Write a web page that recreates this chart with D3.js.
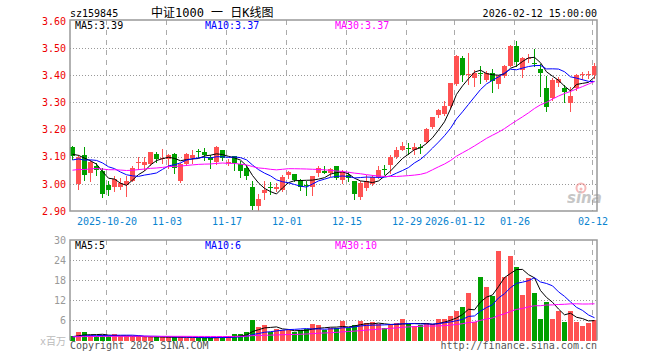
<!DOCTYPE html>
<html>
<head>
<meta charset="utf-8">
<title>中证1000 日K线图</title>
<script src="https://cdn.jsdelivr.net/npm/d3@7"></script>
<style>
    body { margin:0; background:#fff; }
    svg { display:block; font-family:"DejaVu Sans Mono", monospace; font-size:10px; }
    .grid-h { stroke:#999; stroke-dasharray:1,2; }
    .grid-v { stroke:#aaa; stroke-dasharray:5,5; }
    .frame { fill:none; stroke:#999; stroke-width:1.5; }
    .axis .domain { display:none; }
</style>
</head>
<body>
<svg width="660" height="360"></svg>
<script>
// daily candles, 2025-10-10 .. 2026-02-12
const open  = [3.135,3.00,3.107,3.04,3.064,3.048,2.996,2.986,2.99,2.994,
               3.012,3.078,3.07,3.074,3.11,3.09,3.093,3.11,3.011,3.074,
               3.098,3.12,3.118,3.10,3.079,3.123,3.077,3.103,3.072,3.06,
               2.987,2.92,2.966,2.99,2.978,2.978,3.03,3.036,3.015,2.995,
               2.99,3.04,3.048,3.042,3.064,3.015,3.033,3.009,2.953,2.982,
               3.00,3.025,3.054,3.07,3.10,3.125,3.133,3.125,3.136,3.156,
               3.209,3.254,3.26,3.285,3.369,3.463,3.40,3.393,3.41,3.383,
               3.408,3.367,3.398,3.435,3.509,3.42,3.46,3.447,3.423,3.353,
               3.316,3.371,3.353,3.297,3.353,3.40,3.40,3.402];
const high  = [3.14,3.107,3.134,3.088,3.076,3.058,3.009,3.03,3.02,3.03,
               3.064,3.10,3.10,3.118,3.117,3.13,3.11,3.112,3.076,3.115,
               3.125,3.13,3.133,3.106,3.138,3.126,3.09,3.104,3.086,3.07,
               3.01,2.963,3.01,3.007,3.004,3.033,3.048,3.037,3.017,3.01,
               3.03,3.064,3.067,3.06,3.067,3.052,3.043,3.009,3.009,3.033,
               3.033,3.067,3.07,3.105,3.137,3.156,3.15,3.15,3.145,3.205,
               3.248,3.275,3.305,3.37,3.475,3.472,3.483,3.42,3.435,3.415,
               3.422,3.402,3.439,3.512,3.527,3.469,3.48,3.496,3.44,3.398,
               3.389,3.395,3.365,3.358,3.404,3.412,3.415,3.445];
const low   = [3.09,2.98,3.015,3.01,3.033,2.953,2.96,2.975,2.98,2.955,
               3.009,3.055,3.05,3.07,3.082,3.075,3.058,3.04,3.008,3.07,
               3.075,3.10,3.087,3.058,3.073,3.088,3.07,3.05,3.027,3.017,
               2.908,2.904,2.945,2.963,2.972,2.975,3.02,3.01,2.978,2.96,
               2.96,3.03,3.039,3.03,3.017,3.005,3.009,2.944,2.944,2.978,
               2.996,3.021,3.037,3.04,3.094,3.123,3.11,3.11,3.113,3.15,
               3.205,3.245,3.255,3.279,3.366,3.378,3.367,3.36,3.37,3.38,
               3.34,3.352,3.395,3.433,3.433,3.392,3.45,3.433,3.324,3.267,
               3.308,3.359,3.30,3.27,3.347,3.385,3.39,3.39];
const close = [3.10,3.10,3.033,3.082,3.048,2.963,2.978,3.017,3.005,3.009,
               3.06,3.08,3.082,3.117,3.09,3.095,3.107,3.06,3.074,3.11,
               3.108,3.115,3.107,3.088,3.135,3.095,3.082,3.078,3.048,3.03,
               2.916,2.945,2.978,2.988,2.987,3.027,3.042,3.015,2.99,2.992,
               3.03,3.06,3.042,3.055,3.021,3.043,3.023,2.962,3.005,3.009,
               3.025,3.052,3.051,3.10,3.125,3.14,3.131,3.135,3.134,3.203,
               3.246,3.273,3.288,3.37,3.472,3.402,3.405,3.41,3.405,3.41,
               3.38,3.396,3.435,3.509,3.451,3.463,3.463,3.445,3.41,3.283,
               3.383,3.387,3.337,3.322,3.402,3.403,3.405,3.435];
// volume, millions
const volume = [1.2,2.5,2.4,1.5,1.2,1.7,1.2,1.8,1.2,1.2,
                1.2,1.2,1.0,1.0,1.0,1.0,1.0,1.0,1.0,0.8,
                0.8,0.8,0.8,0.8,1.0,1.0,1.2,1.8,1.8,2.5,
                6.0,4.0,4.5,2.5,3.3,3.0,3.2,2.5,3.0,3.5,
                4.8,4.5,3.2,3.8,3.7,5.7,3.8,4.7,5.7,5.2,
                5.4,5.0,3.6,4.8,5.1,6.3,5.0,4.2,4.7,5.2,
                5.0,6.3,6.3,7.3,8.8,10.0,14.2,5.5,19.0,16.0,
                13.3,26.6,19.0,25.2,21.8,13.5,18.8,14.2,6.3,11.5,
                6.3,8.7,5.5,8.7,5.5,4.3,5.2,6.0];
// sessions before the first visible candle, only used to start the moving averages
const warmupClose = [3.02,3.04,3.01,3.00,3.03,3.05,3.02,3.04,3.06,3.03,
                     3.01,3.02,3.04,3.05,3.03,3.02,3.04,3.03,3.05,3.04,
                     3.06,3.08,3.07,3.07,3.055,3.12,3.085,3.13,3.11];
const warmupVolume = [1.0,1.2,1.1,0.9,1.0,1.3,1.1,1.0,1.2,1.1,
                      1.0,0.9,1.1,1.2,1.0,1.1,1.3,1.0,0.9,1.1,
                      1.2,1.0,1.1,1.0,1.2,1.1,1.3,1.0,1.1];

const tickIdx  = [6, 16, 26, 36, 46, 56, 64, 74, 87];
const tickText = ['2025-10-20','11-03','11-17','12-01','12-15','12-29','2026-01-12','01-26','02-12'];
const priceTicks  = [2.90, 3.00, 3.10, 3.20, 3.30, 3.40, 3.50, 3.60];
const volumeTicks = [6, 12, 18, 24, 30];
const maPeriods = [5, 10, 30];
const maColors  = ['#000000', '#0000ff', '#ff00ff'];

const RED = '#ff5252', GREEN = '#00a000';

const svg = d3.select('svg');
const left = 70, right = 597;
const pTop = 20, pBottom = 211;
const vTop = 240, vBottom = 340.5;

const n = close.length;
const x = d3.scaleLinear().domain([0, n]).range([left, left + 6 * n]);   // left edge of candle i
const yP = d3.scaleLinear().domain([2.9, 3.6]).range([pBottom, 21]);
const yV = d3.scaleLinear().domain([0, 30]).range([vBottom, vTop]);

function movingAvg(arr, p) {
    return arr.map((d, i) => i < p - 1 ? null : d3.mean(arr.slice(i - p + 1, i + 1)));
}
const trunc = (v, k) => Math.floor(v * Math.pow(10, k) + 1e-9) / Math.pow(10, k);
const up = i => close[i] >= open[i];

// ---------- header ----------
svg.append('text').attr('x', left).attr('y', 16.5).text('sz159845');
svg.append('text').attr('x', 151).attr('y', 17)
    .style('font-family', '"DejaVu Sans Mono","Noto Sans CJK SC"').style('font-size', '12px')
    .text('中证1000 一 日K线图');
svg.append('text').attr('x', right).attr('y', 16.5).attr('text-anchor', 'end').text('2026-02-12 15:00:00');

// ---------- price panel ----------
const gp = svg.append('g');
gp.selectAll('.grid-h').data(priceTicks.slice(1, -1)).enter().append('line')
    .attr('class', 'grid-h')
    .attr('x1', left).attr('x2', right)
    .attr('y1', d => Math.round(yP(d)) + 0.5).attr('y2', d => Math.round(yP(d)) + 0.5);
gp.selectAll('.grid-v').data(tickIdx).enter().append('line')
    .attr('class', 'grid-v')
    .attr('x1', d => x(d) + 0.5).attr('x2', d => x(d) + 0.5)
    .attr('y1', pTop).attr('y2', pBottom);

// sina watermark
const wm = gp.append('g').attr('opacity', 0.55);
wm.append('circle').attr('cx', 581).attr('cy', 188).attr('r', 4.5)
    .attr('fill', 'none').attr('stroke', '#f08080').attr('stroke-width', 2);
wm.append('circle').attr('cx', 581).attr('cy', 189).attr('r', 1.5).attr('fill', '#f08080');
wm.append('text').attr('x', 567).attr('y', 203)
    .style('font-family', '"DejaVu Sans"').style('font-size', '15px')
    .style('font-weight', 'bold').style('font-style', 'italic')
    .attr('fill', '#999').text('sina');

const candles = gp.selectAll('.candle').data(close).enter().append('g');
candles.append('line')
    .attr('x1', (d, i) => x(i) + 2.5).attr('x2', (d, i) => x(i) + 2.5)
    .attr('y1', (d, i) => Math.round(yP(high[i]))).attr('y2', (d, i) => Math.round(yP(low[i])) + 1)
    .attr('stroke', (d, i) => up(i) ? RED : GREEN);
candles.append('rect')
    .attr('x', (d, i) => x(i)).attr('width', 5)
    .attr('y', (d, i) => Math.round(yP(Math.max(open[i], close[i]))))
    .attr('height', (d, i) => Math.max(1, Math.round(Math.abs(yP(open[i]) - yP(close[i])))))
    .attr('fill', (d, i) => up(i) ? RED : GREEN)
    .attr('shape-rendering', 'crispEdges');

const allClose = warmupClose.concat(close);
const priceMA = maPeriods.map(p => movingAvg(allClose, p).slice(warmupClose.length));
const lineP = d3.line().x((d, i) => x(i) + 2.5).y(d => yP(d));
priceMA.forEach((m, k) => {
    gp.append('path').attr('d', lineP(m)).attr('fill', 'none')
        .attr('stroke', maColors[k]).attr('stroke-width', 1);
});

gp.append('rect').attr('class', 'frame')
    .attr('x', left).attr('y', pTop).attr('width', right - left).attr('height', pBottom - pTop);

const yAxisP = d3.axisLeft(yP).tickValues(priceTicks).tickFormat(d3.format('.2f')).tickSize(0).tickPadding(4);
svg.append('g').attr('class', 'axis').attr('transform', `translate(${left},0)`).call(yAxisP)
    .selectAll('text').attr('fill', '#ee0000').style('font-size', '10px').style('font-family', '"DejaVu Sans Mono"');

const xc = d3.scaleLinear().domain(x.domain()).range(x.range().map(v => v + 0.5));
const xAxis = d3.axisBottom(xc).tickValues(tickIdx).tickFormat((d, i) => tickText[i]).tickSize(0).tickPadding(7);
svg.append('g').attr('class', 'axis').attr('transform', `translate(0,${pBottom})`).call(xAxis)
    .selectAll('text').attr('fill', '#0a84d0').style('font-size', '10px').style('font-family', '"DejaVu Sans Mono"');

const legendX = [75, 205, 335];
priceMA.forEach((m, k) => {
    svg.append('text').attr('x', legendX[k]).attr('y', 29).attr('fill', maColors[k])
        .text('MA' + maPeriods[k] + ':' + trunc(m[n - 1], 2).toFixed(2));
});

// ---------- volume panel ----------
const gv = svg.append('g');
gv.selectAll('.grid-h').data(volumeTicks.slice(0, -1)).enter().append('line')
    .attr('class', 'grid-h')
    .attr('x1', left).attr('x2', right)
    .attr('y1', d => Math.round(yV(d)) + 0.5).attr('y2', d => Math.round(yV(d)) + 0.5);
gv.selectAll('.grid-v').data(tickIdx).enter().append('line')
    .attr('class', 'grid-v')
    .attr('x1', d => x(d) + 0.5).attr('x2', d => x(d) + 0.5)
    .attr('y1', vTop).attr('y2', vBottom);

gv.selectAll('.vol').data(volume).enter().append('rect')
    .attr('x', (d, i) => x(i)).attr('width', 5)
    .attr('y', d => Math.round(yV(d)))
    .attr('height', d => Math.round(vBottom) - Math.round(yV(d)))
    .attr('fill', (d, i) => up(i) ? RED : GREEN)
    .attr('shape-rendering', 'crispEdges');

const allVol = warmupVolume.concat(volume);
const volMA = maPeriods.map(p => movingAvg(allVol, p).slice(warmupVolume.length));
const lineV = d3.line().x((d, i) => x(i) + 2.5).y(d => yV(d));
volMA.forEach((m, k) => {
    gv.append('path').attr('d', lineV(m)).attr('fill', 'none')
        .attr('stroke', maColors[k]).attr('stroke-width', 1);
});

gv.append('path').attr('class', 'frame')
    .attr('d', `M${left},${vBottom}V${vTop}H${right}V${vBottom}`);

const yAxisV = d3.axisLeft(yV).tickValues(volumeTicks).tickSize(0).tickPadding(4);
svg.append('g').attr('class', 'axis').attr('transform', `translate(${left},0)`).call(yAxisV)
    .selectAll('text').attr('fill', '#999').style('font-size', '10px').style('font-family', '"DejaVu Sans Mono"');

volMA.forEach((m, k) => {
    svg.append('text').attr('x', legendX[k]).attr('y', 249).attr('fill', maColors[k])
        .text('MA' + maPeriods[k] + ':' + Math.floor(m[n - 1]));
});

// ---------- footer ----------
svg.append('text').attr('x', 66).attr('y', 345).attr('text-anchor', 'end').attr('fill', '#bbb')
    .style('font-family', '"DejaVu Sans Mono","Noto Sans CJK SC"').text('x百万');
svg.append('text').attr('x', left).attr('y', 349).attr('fill', '#555').text('Copyright 2026 SINA.COM');
svg.append('text').attr('x', right).attr('y', 349).attr('text-anchor', 'end').attr('fill', '#555')
    .text('http://finance.sina.com.cn');
</script>
</body>
</html>
